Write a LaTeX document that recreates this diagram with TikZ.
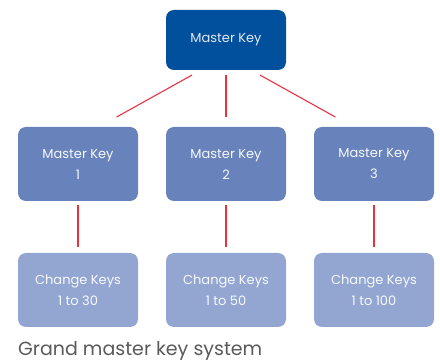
\documentclass[tikz,border=0pt]{standalone}
\usepackage{fontspec}
\setmainfont{Poppins}
\usetikzlibrary{calc}
\definecolor{mkdark}{HTML}{00509D}
\definecolor{mkmid}{HTML}{6882BC}
\definecolor{mklight}{HTML}{93A6D2}
\definecolor{mkred}{HTML}{E8333F}
\definecolor{mkcap}{HTML}{5A5A5A}
\begin{document}
\begin{tikzpicture}[x=1pt, y=1pt,
   keybox/.style={rounded corners=8pt, minimum width=120pt, inner sep=0pt,
     align=center, font=\fontsize{13}{21}\selectfont, text=white!95!mkmid},
   toplevel/.style={keybox, fill=mkdark, minimum height=60pt, text=white!82!mkmid},
   midlevel/.style={keybox, fill=mkmid, minimum height=74pt},
   lowlevel/.style={keybox, fill=mklight, minimum height=74pt},
   link/.style={draw=mkred, line width=1.1pt}]
   \useasboundingbox (0,0) rectangle (440,-363);
   % top
   \node[toplevel] (gmk) at (226,-40) {Master Key};
   % master keys
   \node[midlevel] (mk1) at (78,-164) {Master Key\\1};
   \node[midlevel] (mk2) at (226,-164) {Master Key\\2};
   \node[midlevel] (mk3) at (374,-164) {Master Key\\3};
   % change keys
   \node[lowlevel] (ck1) at (78,-290) {Change Keys\\1 to 30};
   \node[lowlevel] (ck2) at (226,-290) {Change Keys\\1 to 50};
   \node[lowlevel] (ck3) at (374,-290) {Change Keys\\1 to 100};
   % links
   \draw[link, shorten <=10pt, shorten >=20pt]
     ($(gmk.south west)!0.29!(gmk.south east)$) -- ($(mk1.north west)!0.675!(mk1.north east)$);
   \draw[link, shorten <=5pt, shorten >=10pt] (gmk.south) -- (mk2.north);
   \draw[link, shorten <=10pt, shorten >=20pt]
     ($(gmk.south west)!0.71!(gmk.south east)$) -- ($(mk3.north west)!0.325!(mk3.north east)$);
   \foreach \i in {1,2,3}
     \draw[link, shorten <=4pt, shorten >=6pt] (mk\i.south) -- (ck\i.north);
   % caption
   \node[anchor=base west, inner sep=0pt, text=mkcap, font=\fontsize{19}{21}\selectfont]
     (caption) at (18,-355.5) {Grand master key system};
\end{tikzpicture}
\end{document}
